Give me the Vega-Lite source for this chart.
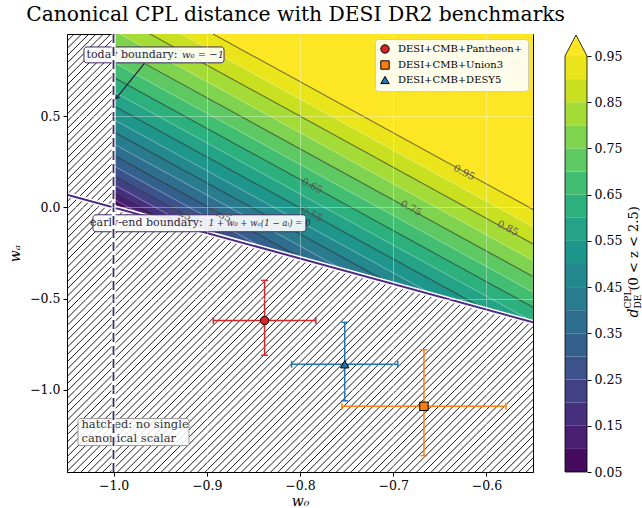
{
"$schema":"https://vega.github.io/schema/vega-lite/v6.json",
"background":"white",
"padding":{"left":8,"top":5,"right":2,"bottom":2},
"title":{"text":"Canonical CPL distance with DESI DR2 benchmarks","font":"DejaVu Serif","fontSize":20.3,"fontWeight":"normal","color":"black","anchor":"middle","dx":-30,"offset":6},
"config":{"font":"DejaVu Serif","view":{"stroke":null},"axis":{"labelFont":"DejaVu Serif","titleFont":"DejaVu Serif","labelColor":"black","titleColor":"black","tickColor":"black","domainColor":"black","labelFontSize":12.5,"titleFontSize":14,"titleFontWeight":"normal","tickSize":4,"labelPadding":3}},
"datasets":{
"hatch":[{"a":-1.5562,"b":-1.0162},{"a":-1.5484,"b":-1.0084},{"a":-1.5405,"b":-1.0005},{"a":-1.5327,"b":-0.9927},{"a":-1.5249,"b":-0.9849},{"a":-1.5171,"b":-0.9771},{"a":-1.5092,"b":-0.9692},{"a":-1.5014,"b":-0.9614},{"a":-1.4936,"b":-0.9536},{"a":-1.4857,"b":-0.9457},{"a":-1.4779,"b":-0.9379},{"a":-1.4701,"b":-0.9301},{"a":-1.4622,"b":-0.9222},{"a":-1.4544,"b":-0.9144},{"a":-1.4466,"b":-0.9066},{"a":-1.4388,"b":-0.8988},{"a":-1.4309,"b":-0.8909},{"a":-1.4231,"b":-0.8831},{"a":-1.4153,"b":-0.8753},{"a":-1.4074,"b":-0.8674},{"a":-1.3996,"b":-0.8596},{"a":-1.3918,"b":-0.8518},{"a":-1.3839,"b":-0.8439},{"a":-1.3761,"b":-0.8361},{"a":-1.3683,"b":-0.8283},{"a":-1.3605,"b":-0.8205},{"a":-1.3526,"b":-0.8126},{"a":-1.3448,"b":-0.8048},{"a":-1.337,"b":-0.797},{"a":-1.3291,"b":-0.7891},{"a":-1.3213,"b":-0.7813},{"a":-1.3135,"b":-0.7735},{"a":-1.3056,"b":-0.7656},{"a":-1.2978,"b":-0.7578},{"a":-1.29,"b":-0.75},{"a":-1.2822,"b":-0.7422},{"a":-1.2743,"b":-0.7343},{"a":-1.2665,"b":-0.7265},{"a":-1.2587,"b":-0.7187},{"a":-1.2508,"b":-0.7108},{"a":-1.243,"b":-0.703},{"a":-1.2352,"b":-0.6952},{"a":-1.2273,"b":-0.6873},{"a":-1.2195,"b":-0.6795},{"a":-1.2117,"b":-0.6717},{"a":-1.2039,"b":-0.6639},{"a":-1.196,"b":-0.656},{"a":-1.1882,"b":-0.6482},{"a":-1.1804,"b":-0.6404},{"a":-1.1725,"b":-0.6325},{"a":-1.1647,"b":-0.6247},{"a":-1.1569,"b":-0.6169},{"a":-1.149,"b":-0.609},{"a":-1.1412,"b":-0.6012},{"a":-1.1334,"b":-0.5934},{"a":-1.1256,"b":-0.5856},{"a":-1.1177,"b":-0.5777},{"a":-1.1099,"b":-0.5699},{"a":-1.1021,"b":-0.5621},{"a":-1.0942,"b":-0.5542},{"a":-1.0864,"b":-0.5464},{"a":-1.0786,"b":-0.5386},{"a":-1.0707,"b":-0.5307},{"a":-1.0629,"b":-0.5229},{"a":-1.0551,"b":-0.5151},{"a":-1.0473,"b":-0.5073},{"a":-1.0394,"b":-0.4994},{"a":-1.0316,"b":-0.4916},{"a":-1.0238,"b":-0.4838},{"a":-1.0159,"b":-0.4759},{"a":-1.0081,"b":-0.4681},{"a":-1.0003,"b":-0.4603},{"a":-0.9924,"b":-0.4524},{"a":-0.9846,"b":-0.4446},{"a":-0.9768,"b":-0.4368},{"a":-0.969,"b":-0.429},{"a":-0.9611,"b":-0.4211},{"a":-0.9533,"b":-0.4133},{"a":-0.9455,"b":-0.4055},{"a":-0.9376,"b":-0.3976},{"a":-0.9298,"b":-0.3898},{"a":-0.922,"b":-0.382},{"a":-0.9141,"b":-0.3741},{"a":-0.9063,"b":-0.3663},{"a":-0.8985,"b":-0.3585},{"a":-0.8907,"b":-0.3507},{"a":-0.8828,"b":-0.3428},{"a":-0.875,"b":-0.335},{"a":-0.8672,"b":-0.3272},{"a":-0.8593,"b":-0.3193},{"a":-0.8515,"b":-0.3115},{"a":-0.8437,"b":-0.3037},{"a":-0.8358,"b":-0.2958},{"a":-0.828,"b":-0.288},{"a":-0.8202,"b":-0.2802},{"a":-0.8124,"b":-0.2724},{"a":-0.8045,"b":-0.2645},{"a":-0.7967,"b":-0.2567},{"a":-0.7889,"b":-0.2489},{"a":-0.781,"b":-0.241},{"a":-0.7732,"b":-0.2332},{"a":-0.7654,"b":-0.2254},{"a":-0.7575,"b":-0.2175},{"a":-0.7497,"b":-0.2097},{"a":-0.7419,"b":-0.2019},{"a":-0.7341,"b":-0.1941},{"a":-0.7262,"b":-0.1862},{"a":-0.7184,"b":-0.1784},{"a":-0.7106,"b":-0.1706},{"a":-0.7027,"b":-0.1627},{"a":-0.6949,"b":-0.1549},{"a":-0.6871,"b":-0.1471},{"a":-0.6792,"b":-0.1392},{"a":-0.6714,"b":-0.1314},{"a":-0.6636,"b":-0.1236},{"a":-0.6558,"b":-0.1158},{"a":-0.6479,"b":-0.1079},{"a":-0.6401,"b":-0.1001},{"a":-0.6323,"b":-0.0923},{"a":-0.6244,"b":-0.0844},{"a":-0.6166,"b":-0.0766},{"a":-0.6088,"b":-0.0688},{"a":-0.6009,"b":-0.0609},{"a":-0.5931,"b":-0.0531},{"a":-0.5853,"b":-0.0453}],
"cont":[
{"L":0.05,"w0":-1,"wa":0,"k":"b"},{"L":0.05,"w0":-0.55,"wa":-0.63,"k":"b"},
{"L":0.1,"w0":-1,"wa":0.0449,"k":"c"},{"L":0.1,"w0":-0.9679,"wa":-0.0449,"k":"c"},{"L":0.1,"w0":-0.55,"wa":-0.63,"k":"b"},
{"L":0.15,"w0":-1,"wa":0.0818,"k":"c"},{"L":0.15,"w0":-0.9416,"wa":-0.0818,"k":"c"},{"L":0.15,"w0":-0.55,"wa":-0.63,"k":"b"},
{"L":0.2,"w0":-1,"wa":0.125,"k":"c"},{"L":0.2,"w0":-0.9107,"wa":-0.125,"k":"c"},{"L":0.2,"w0":-0.55,"wa":-0.63,"k":"b"},
{"L":0.25,"w0":-1,"wa":0.1739,"k":"c"},{"L":0.25,"w0":-0.8758,"wa":-0.1739,"k":"c"},{"L":0.25,"w0":-0.55,"wa":-0.63,"k":"b"},
{"L":0.3,"w0":-1,"wa":0.2276,"k":"c"},{"L":0.3,"w0":-0.8375,"wa":-0.2276,"k":"c"},{"L":0.3,"w0":-0.55,"wa":-0.63,"k":"b"},
{"L":0.35,"w0":-1,"wa":0.2858,"k":"c"},{"L":0.35,"w0":-0.7959,"wa":-0.2858,"k":"c"},{"L":0.35,"w0":-0.55,"wa":-0.63,"k":"b"},
{"L":0.4,"w0":-1,"wa":0.348,"k":"c"},{"L":0.4,"w0":-0.7514,"wa":-0.348,"k":"c"},{"L":0.4,"w0":-0.55,"wa":-0.63,"k":"b"},
{"L":0.45,"w0":-1,"wa":0.4142,"k":"c"},{"L":0.45,"w0":-0.7042,"wa":-0.4142,"k":"c"},{"L":0.45,"w0":-0.55,"wa":-0.63,"k":"b"},
{"L":0.5,"w0":-1,"wa":0.4814,"k":"c"},{"L":0.5,"w0":-0.6561,"wa":-0.4814,"k":"c"},{"L":0.5,"w0":-0.55,"wa":-0.63,"k":"b"},
{"L":0.55,"w0":-1,"wa":0.5571,"k":"c"},{"L":0.55,"w0":-0.6021,"wa":-0.5571,"k":"c"},{"L":0.55,"w0":-0.55,"wa":-0.63,"k":"b"},
{"L":0.6,"w0":-1,"wa":0.6334,"k":"c"},{"L":0.6,"w0":-0.55,"wa":-0.6266,"k":"c"},
{"L":0.65,"w0":-1,"wa":0.713,"k":"c"},{"L":0.65,"w0":-0.55,"wa":-0.547,"k":"c"},
{"L":0.7,"w0":-1,"wa":0.7955,"k":"c"},{"L":0.7,"w0":-0.55,"wa":-0.4645,"k":"c"},
{"L":0.75,"w0":-1,"wa":0.8808,"k":"c"},{"L":0.75,"w0":-0.55,"wa":-0.3792,"k":"c"},
{"L":0.8,"w0":-1,"wa":0.9689,"k":"c"},{"L":0.8,"w0":-0.55,"wa":-0.2911,"k":"c"},
{"L":0.85,"w0":-1,"wa":1.0596,"k":"c"},{"L":0.85,"w0":-0.55,"wa":-0.2004,"k":"c"},
{"L":0.9,"w0":-1,"wa":1.1529,"k":"c"},{"L":0.9,"w0":-0.55,"wa":-0.1071,"k":"c"},
{"L":0.95,"w0":-1,"wa":1.2488,"k":"c"},{"L":0.95,"w0":-0.55,"wa":-0.0112,"k":"c"}],
"pts":[
{"ds":"DESI+CMB+Pantheon+","w0":-0.838,"w0lo":-0.893,"w0hi":-0.783,"wa":-0.62,"walo":-0.81,"wahi":-0.40},
{"ds":"DESI+CMB+Union3","w0":-0.667,"w0lo":-0.755,"w0hi":-0.579,"wa":-1.09,"walo":-1.36,"wahi":-0.78},
{"ds":"DESI+CMB+DESY5","w0":-0.752,"w0lo":-0.809,"w0hi":-0.695,"wa":-0.86,"walo":-1.06,"wahi":-0.63}]
},
"resolve":{"scale":{"x":"independent","y":"independent","fill":"independent"},"legend":{"color":"independent","shape":"independent"}},
"spacing":29,
"hconcat":[
{
"width":466,"height":438,
"view":{"stroke":"black","strokeWidth":1},
"layer":[
{"data":{"name":"hatch"},"mark":{"type":"rule","clip":true,"color":"black","strokeWidth":0.9},
 "encoding":{
  "x":{"field":"a","type":"quantitative","scale":{"domain":[-1.05,-0.55],"nice":false,"zero":false},"axis":{"values":[-1,-0.9,-0.8,-0.7,-0.6],"format":".1f","title":"w₀","titleFontStyle":"italic","titlePadding":3,"grid":true,"gridColor":"white","gridOpacity":0.45,"gridWidth":0.8,"zindex":1}},
  "x2":{"field":"b"},
  "y":{"datum":-1.6326,"type":"quantitative","scale":{"domain":[-1.45,0.95],"nice":false,"zero":false},"axis":{"values":[-1,-0.5,0,0.5],"format":".1f","title":"wₐ","titleFontStyle":"italic","titlePadding":7,"grid":true,"gridColor":"white","gridOpacity":0.45,"gridWidth":0.8,"zindex":1}},
  "y2":{"datum":1.1224}}},
{"data":{"name":"cont"},"mark":{"type":"area","clip":true},
 "encoding":{
  "x":{"field":"w0","type":"quantitative","scale":{"domain":[-1.05,-0.55],"nice":false,"zero":false}},
  "y":{"field":"wa","type":"quantitative","scale":{"domain":[-1.45,0.95],"nice":false,"zero":false},"stack":null},
  "y2":{"datum":2},
  "detail":{"field":"L","type":"quantitative"},
  "fill":{"field":"L","type":"quantitative","legend":null,"scale":{"type":"threshold","domain":[0.1,0.15,0.2,0.25,0.3,0.35,0.4,0.45,0.5,0.55,0.6,0.65,0.7,0.75,0.8,0.85,0.9,0.95],"range":["#460b5e","#481f70","#46307e","#424186","#3b528b","#34608d","#2e6e8e","#287c8e","#23898e","#1f968b","#24a386","#2cb17e","#41be71","#5ec962","#7fd34e","#a5db36","#c8e020","#eae51a","#fde725"]}}}},
{"data":{"name":"cont"},"transform":[{"filter":{"field":"k","equal":"c"}},{"filter":{"field":"L","oneOf":[0.1,0.2,0.3,0.4,0.5,0.6,0.7,0.8,0.9]}}],
 "mark":{"type":"line","clip":true,"color":"white","strokeWidth":0.6,"opacity":0.6},
 "encoding":{"x":{"field":"w0","type":"quantitative","scale":{"domain":[-1.05,-0.55],"nice":false,"zero":false}},"y":{"field":"wa","type":"quantitative","scale":{"domain":[-1.45,0.95],"nice":false,"zero":false}},"detail":{"field":"L","type":"quantitative"}}},
{"data":{"name":"cont"},"transform":[{"filter":{"field":"k","equal":"c"}},{"filter":{"field":"L","oneOf":[0.15,0.25,0.35,0.45,0.55,0.65,0.75,0.85,0.95]}}],
 "mark":{"type":"line","clip":true,"color":"#333333","strokeWidth":1.1,"opacity":0.65},
 "encoding":{"x":{"field":"w0","type":"quantitative","scale":{"domain":[-1.05,-0.55],"nice":false,"zero":false}},"y":{"field":"wa","type":"quantitative","scale":{"domain":[-1.45,0.95],"nice":false,"zero":false}},"detail":{"field":"L","type":"quantitative"}}},
{"data":{"values":[{"xa":-1.05,"ya":0.07,"xb":-0.55,"yb":-0.63}]},"mark":{"type":"rule","clip":true,"color":"white","strokeWidth":5},
 "encoding":{"x":{"field":"xa","type":"quantitative","scale":{"domain":[-1.05,-0.55],"nice":false,"zero":false}},"x2":{"field":"xb"},"y":{"field":"ya","type":"quantitative","scale":{"domain":[-1.45,0.95],"nice":false,"zero":false}},"y2":{"field":"yb"}}},
{"data":{"values":[{"xa":-1.05,"ya":0.07,"xb":-0.55,"yb":-0.63}]},"mark":{"type":"rule","clip":true,"color":"#4b2a80","strokeWidth":2},
 "encoding":{"x":{"field":"xa","type":"quantitative","scale":{"domain":[-1.05,-0.55],"nice":false,"zero":false}},"x2":{"field":"xb"},"y":{"field":"ya","type":"quantitative","scale":{"domain":[-1.45,0.95],"nice":false,"zero":false}},"y2":{"field":"yb"}}},
{"data":{"values":[{"x1":-1.0318,"x2":-0.8815,"y1":0.792,"y2":0.879},{"x1":-1.0221,"x2":-0.7936,"y1":-0.1336,"y2":-0.0405}]},
 "mark":{"type":"rect","fill":"white","fillOpacity":0.9,"stroke":"#3f2a63","strokeWidth":1,"cornerRadius":3},
 "encoding":{"x":{"field":"x1","type":"quantitative","scale":{"domain":[-1.05,-0.55],"nice":false,"zero":false}},"x2":{"field":"x2"},"y":{"field":"y1","type":"quantitative","scale":{"domain":[-1.45,0.95],"nice":false,"zero":false}},"y2":{"field":"y2"}}},
{"data":{"values":[{"x1":-1.0382,"x2":-0.9191,"y1":-1.3051,"y2":-1.1573}]},
 "mark":{"type":"rect","fill":"white","fillOpacity":0.85,"stroke":"#999999","strokeWidth":1,"cornerRadius":2},
 "encoding":{"x":{"field":"x1","type":"quantitative","scale":{"domain":[-1.05,-0.55],"nice":false,"zero":false}},"x2":{"field":"x2"},"y":{"field":"y1","type":"quantitative","scale":{"domain":[-1.45,0.95],"nice":false,"zero":false}},"y2":{"field":"y2"}}},
{"data":{"values":[{"t":"today boundary:","w0":-0.9314,"wa":0.8355},{"t":"early-end boundary:","w0":-0.9045,"wa":-0.087}]},
 "mark":{"type":"text","align":"right","baseline":"middle","font":"DejaVu Serif","fontSize":11,"color":"#2d1e40"},
 "encoding":{"x":{"field":"w0","type":"quantitative","scale":{"domain":[-1.05,-0.55],"nice":false,"zero":false}},"y":{"field":"wa","type":"quantitative","scale":{"domain":[-1.45,0.95],"nice":false,"zero":false}},"text":{"field":"t","type":"nominal"}}},
{"data":{"values":[{"t":"w₀ = −1","w0":-0.9266,"wa":0.8355}]},
 "mark":{"type":"text","align":"left","baseline":"middle","font":"DejaVu Serif","fontSize":10,"fontStyle":"italic","color":"#2d1e40"},
 "encoding":{"x":{"field":"w0","type":"quantitative","scale":{"domain":[-1.05,-0.55],"nice":false,"zero":false}},"y":{"field":"wa","type":"quantitative","scale":{"domain":[-1.45,0.95],"nice":false,"zero":false}},"text":{"field":"t","type":"nominal"}}},
{"data":{"values":[{"t":"1 + w₀ + wₐ(1 − aᵢ) = 0","w0":-0.898,"wa":-0.087}]},
 "mark":{"type":"text","align":"left","baseline":"middle","font":"DejaVu Serif","fontSize":8.6,"fontStyle":"italic","color":"#2d1e40"},
 "encoding":{"x":{"field":"w0","type":"quantitative","scale":{"domain":[-1.05,-0.55],"nice":false,"zero":false}},"y":{"field":"wa","type":"quantitative","scale":{"domain":[-1.45,0.95],"nice":false,"zero":false}},"text":{"field":"t","type":"nominal"}}},
{"data":{"values":[{"t":"hatched: no single","w0":-1.0345,"wa":-1.192},{"t":"canonical scalar","w0":-1.0345,"wa":-1.268}]},
 "mark":{"type":"text","align":"left","baseline":"middle","font":"DejaVu Serif","fontSize":11.5,"color":"#333333"},
 "encoding":{"x":{"field":"w0","type":"quantitative","scale":{"domain":[-1.05,-0.55],"nice":false,"zero":false}},"y":{"field":"wa","type":"quantitative","scale":{"domain":[-1.45,0.95],"nice":false,"zero":false}},"text":{"field":"t","type":"nominal"}}},
{"data":{"values":[{"t":"0.95","w0":-0.624,"wa":0.19},{"t":"0.85","w0":-0.577,"wa":-0.115},{"t":"0.75","w0":-0.681,"wa":-0.005},{"t":"0.65","w0":-0.787,"wa":0.117},{"t":"0.55","w0":-0.787,"wa":-0.038},{"t":"0.35","w0":-0.885,"wa":-0.04},{"t":"0.25","w0":-0.928,"wa":-0.03}]},
 "mark":{"type":"text","align":"center","baseline":"middle","font":"DejaVu Serif","fontSize":10,"color":"#555555","angle":27},
 "encoding":{"x":{"field":"w0","type":"quantitative","scale":{"domain":[-1.05,-0.55],"nice":false,"zero":false}},"y":{"field":"wa","type":"quantitative","scale":{"domain":[-1.45,0.95],"nice":false,"zero":false}},"text":{"field":"t","type":"nominal"}}},
{"data":{"values":[{"w0":-1,"y1":-1.45,"y2":0.95}]},"mark":{"type":"rule","color":"white","strokeWidth":4},
 "encoding":{"x":{"field":"w0","type":"quantitative","scale":{"domain":[-1.05,-0.55],"nice":false,"zero":false}},"y":{"field":"y1","type":"quantitative","scale":{"domain":[-1.45,0.95],"nice":false,"zero":false}},"y2":{"field":"y2"}}},
{"data":{"values":[{"w0":-1,"y1":-1.45,"y2":0.95}]},"mark":{"type":"rule","color":"#3b2d5c","strokeWidth":2,"strokeDash":[9,4]},
 "encoding":{"x":{"field":"w0","type":"quantitative","scale":{"domain":[-1.05,-0.55],"nice":false,"zero":false}},"y":{"field":"y1","type":"quantitative","scale":{"domain":[-1.45,0.95],"nice":false,"zero":false}},"y2":{"field":"y2"}}},
{"data":{"values":[{"xa":-0.9674,"ya":0.786,"xb":-0.9975,"yb":0.596}]},"mark":{"type":"rule","color":"#2d1e40","strokeWidth":1.2},
 "encoding":{"x":{"field":"xa","type":"quantitative","scale":{"domain":[-1.05,-0.55],"nice":false,"zero":false}},"x2":{"field":"xb"},"y":{"field":"ya","type":"quantitative","scale":{"domain":[-1.45,0.95],"nice":false,"zero":false}},"y2":{"field":"yb"}}},
{"data":{"values":[{"w0":-0.9975,"wa":0.596}]},"mark":{"type":"point","shape":"M-0.6,-1L0,0L0.6,-1","filled":false,"size":45,"angle":37.7,"color":"#2d1e40","strokeWidth":1.2,"opacity":1},
 "encoding":{"x":{"field":"w0","type":"quantitative","scale":{"domain":[-1.05,-0.55],"nice":false,"zero":false}},"y":{"field":"wa","type":"quantitative","scale":{"domain":[-1.45,0.95],"nice":false,"zero":false}}}},
{"data":{"name":"pts"},"transform":[{"filter":{"field":"ds","equal":"DESI+CMB+Pantheon+"}}],
 "layer":[
  {"mark":{"type":"rule","color":"#d62728","strokeWidth":1.5},"encoding":{"x":{"field":"w0lo","type":"quantitative","scale":{"domain":[-1.05,-0.55],"nice":false,"zero":false}},"x2":{"field":"w0hi"},"y":{"field":"wa","type":"quantitative","scale":{"domain":[-1.45,0.95],"nice":false,"zero":false}}}},
  {"mark":{"type":"rule","color":"#d62728","strokeWidth":1.5},"encoding":{"x":{"field":"w0","type":"quantitative","scale":{"domain":[-1.05,-0.55],"nice":false,"zero":false}},"y":{"field":"walo","type":"quantitative","scale":{"domain":[-1.45,0.95],"nice":false,"zero":false}},"y2":{"field":"wahi"}}},
  {"mark":{"type":"rule","color":"#d62728","strokeWidth":1.5,"yOffset":-3.5,"y2Offset":3.5},"encoding":{"x":{"field":"w0lo","type":"quantitative","scale":{"domain":[-1.05,-0.55],"nice":false,"zero":false}},"y":{"field":"wa","type":"quantitative","scale":{"domain":[-1.45,0.95],"nice":false,"zero":false}},"y2":{"field":"wa"}}},
  {"mark":{"type":"rule","color":"#d62728","strokeWidth":1.5,"yOffset":-3.5,"y2Offset":3.5},"encoding":{"x":{"field":"w0hi","type":"quantitative","scale":{"domain":[-1.05,-0.55],"nice":false,"zero":false}},"y":{"field":"wa","type":"quantitative","scale":{"domain":[-1.45,0.95],"nice":false,"zero":false}},"y2":{"field":"wa"}}},
  {"mark":{"type":"rule","color":"#d62728","strokeWidth":1.5,"xOffset":-3.5,"x2Offset":3.5},"encoding":{"x":{"field":"w0","type":"quantitative","scale":{"domain":[-1.05,-0.55],"nice":false,"zero":false}},"x2":{"field":"w0"},"y":{"field":"walo","type":"quantitative","scale":{"domain":[-1.45,0.95],"nice":false,"zero":false}}}},
  {"mark":{"type":"rule","color":"#d62728","strokeWidth":1.5,"xOffset":-3.5,"x2Offset":3.5},"encoding":{"x":{"field":"w0","type":"quantitative","scale":{"domain":[-1.05,-0.55],"nice":false,"zero":false}},"x2":{"field":"w0"},"y":{"field":"wahi","type":"quantitative","scale":{"domain":[-1.45,0.95],"nice":false,"zero":false}}}}
 ]},
{"data":{"name":"pts"},"transform":[{"filter":{"field":"ds","equal":"DESI+CMB+Union3"}}],
 "layer":[
  {"mark":{"type":"rule","color":"#ff7f0e","strokeWidth":1.5},"encoding":{"x":{"field":"w0lo","type":"quantitative","scale":{"domain":[-1.05,-0.55],"nice":false,"zero":false}},"x2":{"field":"w0hi"},"y":{"field":"wa","type":"quantitative","scale":{"domain":[-1.45,0.95],"nice":false,"zero":false}}}},
  {"mark":{"type":"rule","color":"#ff7f0e","strokeWidth":1.5},"encoding":{"x":{"field":"w0","type":"quantitative","scale":{"domain":[-1.05,-0.55],"nice":false,"zero":false}},"y":{"field":"walo","type":"quantitative","scale":{"domain":[-1.45,0.95],"nice":false,"zero":false}},"y2":{"field":"wahi"}}},
  {"mark":{"type":"rule","color":"#ff7f0e","strokeWidth":1.5,"yOffset":-3.5,"y2Offset":3.5},"encoding":{"x":{"field":"w0lo","type":"quantitative","scale":{"domain":[-1.05,-0.55],"nice":false,"zero":false}},"y":{"field":"wa","type":"quantitative","scale":{"domain":[-1.45,0.95],"nice":false,"zero":false}},"y2":{"field":"wa"}}},
  {"mark":{"type":"rule","color":"#ff7f0e","strokeWidth":1.5,"yOffset":-3.5,"y2Offset":3.5},"encoding":{"x":{"field":"w0hi","type":"quantitative","scale":{"domain":[-1.05,-0.55],"nice":false,"zero":false}},"y":{"field":"wa","type":"quantitative","scale":{"domain":[-1.45,0.95],"nice":false,"zero":false}},"y2":{"field":"wa"}}},
  {"mark":{"type":"rule","color":"#ff7f0e","strokeWidth":1.5,"xOffset":-3.5,"x2Offset":3.5},"encoding":{"x":{"field":"w0","type":"quantitative","scale":{"domain":[-1.05,-0.55],"nice":false,"zero":false}},"x2":{"field":"w0"},"y":{"field":"walo","type":"quantitative","scale":{"domain":[-1.45,0.95],"nice":false,"zero":false}}}},
  {"mark":{"type":"rule","color":"#ff7f0e","strokeWidth":1.5,"xOffset":-3.5,"x2Offset":3.5},"encoding":{"x":{"field":"w0","type":"quantitative","scale":{"domain":[-1.05,-0.55],"nice":false,"zero":false}},"x2":{"field":"w0"},"y":{"field":"wahi","type":"quantitative","scale":{"domain":[-1.45,0.95],"nice":false,"zero":false}}}}
 ]},
{"data":{"name":"pts"},"transform":[{"filter":{"field":"ds","equal":"DESI+CMB+DESY5"}}],
 "layer":[
  {"mark":{"type":"rule","color":"#1f77b4","strokeWidth":1.5},"encoding":{"x":{"field":"w0lo","type":"quantitative","scale":{"domain":[-1.05,-0.55],"nice":false,"zero":false}},"x2":{"field":"w0hi"},"y":{"field":"wa","type":"quantitative","scale":{"domain":[-1.45,0.95],"nice":false,"zero":false}}}},
  {"mark":{"type":"rule","color":"#1f77b4","strokeWidth":1.5},"encoding":{"x":{"field":"w0","type":"quantitative","scale":{"domain":[-1.05,-0.55],"nice":false,"zero":false}},"y":{"field":"walo","type":"quantitative","scale":{"domain":[-1.45,0.95],"nice":false,"zero":false}},"y2":{"field":"wahi"}}},
  {"mark":{"type":"rule","color":"#1f77b4","strokeWidth":1.5,"yOffset":-3.5,"y2Offset":3.5},"encoding":{"x":{"field":"w0lo","type":"quantitative","scale":{"domain":[-1.05,-0.55],"nice":false,"zero":false}},"y":{"field":"wa","type":"quantitative","scale":{"domain":[-1.45,0.95],"nice":false,"zero":false}},"y2":{"field":"wa"}}},
  {"mark":{"type":"rule","color":"#1f77b4","strokeWidth":1.5,"yOffset":-3.5,"y2Offset":3.5},"encoding":{"x":{"field":"w0hi","type":"quantitative","scale":{"domain":[-1.05,-0.55],"nice":false,"zero":false}},"y":{"field":"wa","type":"quantitative","scale":{"domain":[-1.45,0.95],"nice":false,"zero":false}},"y2":{"field":"wa"}}},
  {"mark":{"type":"rule","color":"#1f77b4","strokeWidth":1.5,"xOffset":-3.5,"x2Offset":3.5},"encoding":{"x":{"field":"w0","type":"quantitative","scale":{"domain":[-1.05,-0.55],"nice":false,"zero":false}},"x2":{"field":"w0"},"y":{"field":"walo","type":"quantitative","scale":{"domain":[-1.45,0.95],"nice":false,"zero":false}}}},
  {"mark":{"type":"rule","color":"#1f77b4","strokeWidth":1.5,"xOffset":-3.5,"x2Offset":3.5},"encoding":{"x":{"field":"w0","type":"quantitative","scale":{"domain":[-1.05,-0.55],"nice":false,"zero":false}},"x2":{"field":"w0"},"y":{"field":"wahi","type":"quantitative","scale":{"domain":[-1.45,0.95],"nice":false,"zero":false}}}}
 ]},
{"data":{"name":"pts"},"mark":{"type":"point","filled":true,"size":70,"stroke":"black","strokeWidth":1,"opacity":1},
 "encoding":{"x":{"field":"w0","type":"quantitative","scale":{"domain":[-1.05,-0.55],"nice":false,"zero":false}},"y":{"field":"wa","type":"quantitative","scale":{"domain":[-1.45,0.95],"nice":false,"zero":false}},
  "color":{"field":"ds","type":"nominal","title":null,"scale":{"domain":["DESI+CMB+Pantheon+","DESI+CMB+Union3","DESI+CMB+DESY5"],"range":["#d62728","#ff7f0e","#1f77b4"]},
   "legend":{"orient":"top-right","offset":5,"fillColor":"rgba(255,255,255,0.9)","strokeColor":"#cccccc","cornerRadius":3,"padding":5,"labelFont":"DejaVu Serif","labelFontSize":10,"labelColor":"black","symbolSize":70,"symbolStrokeColor":"black","symbolStrokeWidth":1,"rowPadding":2,"labelOffset":8}},
  "shape":{"field":"ds","type":"nominal","title":null,"scale":{"domain":["DESI+CMB+Pantheon+","DESI+CMB+Union3","DESI+CMB+DESY5"],"range":["circle","square","triangle-up"]},
   "legend":{"orient":"top-right","offset":5,"fillColor":"rgba(255,255,255,0.9)","strokeColor":"#cccccc","cornerRadius":3,"padding":5,"labelFont":"DejaVu Serif","labelFontSize":10,"labelColor":"black","symbolSize":70,"symbolStrokeColor":"black","symbolStrokeWidth":1,"rowPadding":2,"labelOffset":8}}}}
]
},
{
"width":22,"height":438,
"view":{"stroke":null},
"layer":[
{"data":{"values":[{"lo":0.05,"hi":0.1},{"lo":0.1,"hi":0.15},{"lo":0.15,"hi":0.2},{"lo":0.2,"hi":0.25},{"lo":0.25,"hi":0.3},{"lo":0.3,"hi":0.35},{"lo":0.35,"hi":0.4},{"lo":0.4,"hi":0.45},{"lo":0.45,"hi":0.5},{"lo":0.5,"hi":0.55},{"lo":0.55,"hi":0.6},{"lo":0.6,"hi":0.65},{"lo":0.65,"hi":0.7},{"lo":0.7,"hi":0.75},{"lo":0.75,"hi":0.8},{"lo":0.8,"hi":0.85},{"lo":0.85,"hi":0.9},{"lo":0.9,"hi":0.95}]},
 "mark":{"type":"rect"},
 "encoding":{
  "x":{"datum":0,"type":"quantitative","scale":{"domain":[0,1],"nice":false,"zero":false},"axis":null},
  "x2":{"datum":1},
  "y":{"field":"lo","type":"quantitative","scale":{"domain":[0.05,0.9976],"nice":false,"zero":false},"axis":{"orient":"right","values":[0.05,0.15,0.25,0.35,0.45,0.55,0.65,0.75,0.85,0.95],"format":".2f","domain":false,"grid":false,"title":null,"labelFontSize":12.5}},
  "y2":{"field":"hi"},
  "fill":{"field":"lo","type":"quantitative","legend":null,"scale":{"type":"threshold","domain":[0.1,0.15,0.2,0.25,0.3,0.35,0.4,0.45,0.5,0.55,0.6,0.65,0.7,0.75,0.8,0.85,0.9,0.95],"range":["#460b5e","#481f70","#46307e","#424186","#3b528b","#34608d","#2e6e8e","#287c8e","#23898e","#1f968b","#24a386","#2cb17e","#41be71","#5ec962","#7fd34e","#a5db36","#c8e020","#eae51a","#fde725"]}}}},
{"data":{"values":[{"x":0,"t":0.95},{"x":0.5,"t":0.9954},{"x":1,"t":0.95}]},
 "mark":{"type":"area","color":"#fde725"},
 "encoding":{"x":{"field":"x","type":"quantitative","scale":{"domain":[0,1],"nice":false,"zero":false},"axis":null},"y":{"field":"t","type":"quantitative","scale":{"domain":[0.05,0.9976],"nice":false,"zero":false},"stack":null},"y2":{"datum":0.95}}},
{"data":{"values":[{"i":0,"x":0,"y":0.05},{"i":1,"x":1,"y":0.05},{"i":2,"x":1,"y":0.95},{"i":3,"x":0.5,"y":0.9954},{"i":4,"x":0,"y":0.95},{"i":5,"x":0,"y":0.05}]},
 "mark":{"type":"line","color":"black","strokeWidth":0.8},
 "encoding":{"x":{"field":"x","type":"quantitative","scale":{"domain":[0,1],"nice":false,"zero":false},"axis":null},"y":{"field":"y","type":"quantitative","scale":{"domain":[0.05,0.9976],"nice":false,"zero":false}},"order":{"field":"i","type":"quantitative"}}},
{"data":{"values":[{"t":"d","x":3.12,"y":0.3843}]},
 "mark":{"type":"text","angle":270,"align":"left","baseline":"middle","font":"DejaVu Serif","fontSize":14,"fontStyle":"italic","color":"black"},
 "encoding":{"x":{"field":"x","type":"quantitative","scale":{"domain":[0,1],"nice":false,"zero":false},"axis":null},"y":{"field":"y","type":"quantitative","scale":{"domain":[0.05,0.9976],"nice":false,"zero":false}},"text":{"field":"t","type":"nominal"}}},
{"data":{"values":[{"t":"CPL","x":2.85,"y":0.4037}]},
 "mark":{"type":"text","angle":270,"align":"left","baseline":"middle","font":"DejaVu Serif","fontSize":9,"color":"black"},
 "encoding":{"x":{"field":"x","type":"quantitative","scale":{"domain":[0,1],"nice":false,"zero":false},"axis":null},"y":{"field":"y","type":"quantitative","scale":{"domain":[0.05,0.9976],"nice":false,"zero":false}},"text":{"field":"t","type":"nominal"}}},
{"data":{"values":[{"t":"DE","x":3.32,"y":0.4037}]},
 "mark":{"type":"text","angle":270,"align":"left","baseline":"middle","font":"DejaVu Serif","fontSize":9,"color":"black"},
 "encoding":{"x":{"field":"x","type":"quantitative","scale":{"domain":[0,1],"nice":false,"zero":false},"axis":null},"y":{"field":"y","type":"quantitative","scale":{"domain":[0.05,0.9976],"nice":false,"zero":false}},"text":{"field":"t","type":"nominal"}}},
{"data":{"values":[{"t":"(0 < z < 2.5)","x":3.12,"y":0.4427}]},
 "mark":{"type":"text","angle":270,"align":"left","baseline":"middle","font":"DejaVu Serif","fontSize":13,"color":"black"},
 "encoding":{"x":{"field":"x","type":"quantitative","scale":{"domain":[0,1],"nice":false,"zero":false},"axis":null},"y":{"field":"y","type":"quantitative","scale":{"domain":[0.05,0.9976],"nice":false,"zero":false}},"text":{"field":"t","type":"nominal"}}}
]
}
]
}
